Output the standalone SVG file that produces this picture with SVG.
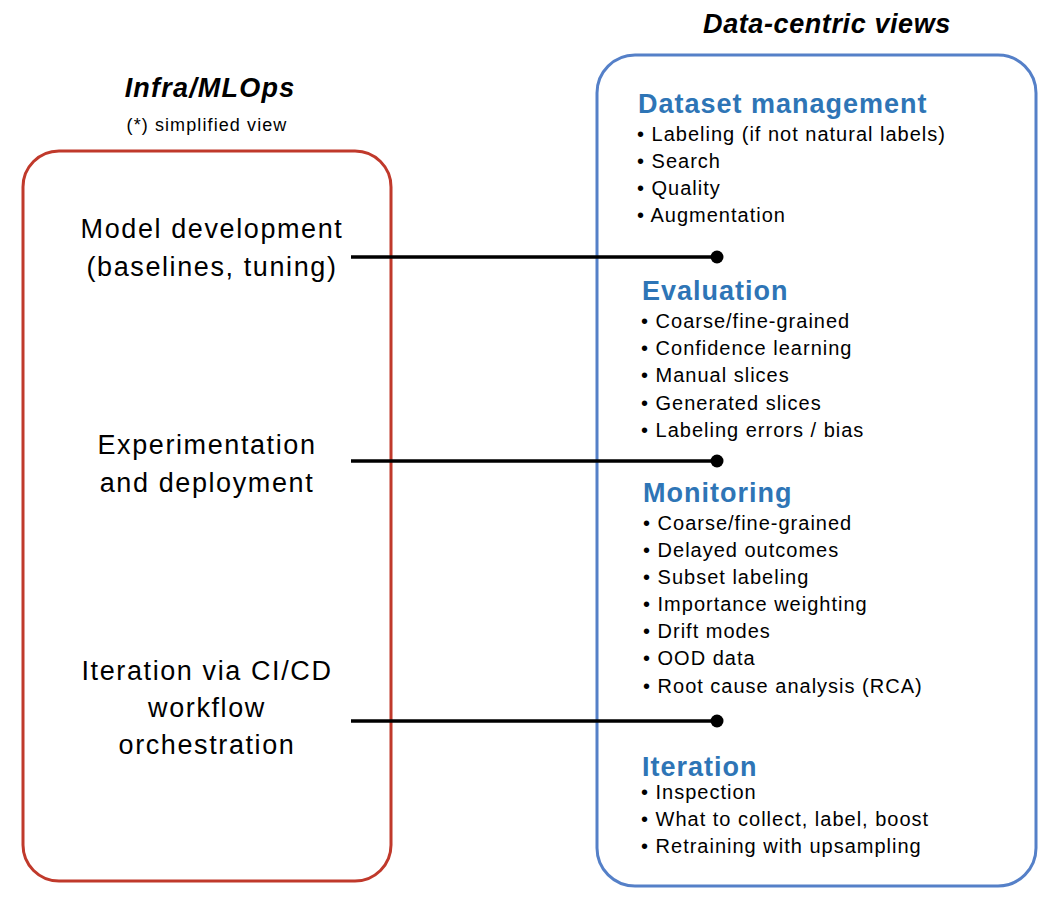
<svg xmlns="http://www.w3.org/2000/svg" width="1060" height="906" viewBox="0 0 1060 906">
<style>
.title{font-family:"Liberation Sans",Arial,sans-serif;font-weight:bold;font-style:italic;font-size:27px;fill:#000;text-anchor:middle}
.sub{font-family:"Liberation Sans",Arial,sans-serif;font-size:18px;letter-spacing:1.1px;fill:#000;text-anchor:middle}
.left{font-family:"Liberation Sans",Arial,sans-serif;font-size:27px;letter-spacing:1.6px;fill:#000;text-anchor:middle}
.head{font-family:"Liberation Sans",Arial,sans-serif;font-weight:bold;font-size:27px;letter-spacing:1px;fill:#2E75B6}
.item{font-family:"Liberation Sans",Arial,sans-serif;font-size:20px;letter-spacing:1px;fill:#000}
.conn{stroke:#000;stroke-width:3.5;fill:none}
</style>
<rect width="1060" height="906" fill="#fff"/>
<g id="infra">
<text class="title" x="210" y="97" letter-spacing="1.2">Infra/MLOps</text>
<text class="sub" x="207" y="131">(*) simplified view</text>
<rect x="23" y="151" width="368" height="730" rx="36" fill="none" stroke="#C0392B" stroke-width="3"/>
<text class="left" x="212" y="238">Model development</text>
<text class="left" x="212" y="276">(baselines, tuning)</text>
<text class="left" x="207" y="454">Experimentation</text>
<text class="left" x="207" y="492">and deployment</text>
<text class="left" x="207" y="680">Iteration via CI/CD</text>
<text class="left" x="207" y="717">workflow</text>
<text class="left" x="207" y="754">orchestration</text>
</g>
<g id="datacentric">
<text class="title" x="827" y="33" letter-spacing="0.6">Data-centric views</text>
<rect x="597" y="55" width="439" height="831" rx="38" fill="none" stroke="#5580C8" stroke-width="3"/>
<text class="head" x="638" y="113">Dataset management</text>
<text class="item" x="637" y="141">• Labeling (if not natural labels)</text>
<text class="item" x="637" y="168">• Search</text>
<text class="item" x="637" y="195">• Quality</text>
<text class="item" x="637" y="222">• Augmentation</text>
<text class="head" x="642" y="300">Evaluation</text>
<text class="item" x="641" y="328">• Coarse/fine-grained</text>
<text class="item" x="641" y="355">• Confidence learning</text>
<text class="item" x="641" y="382">• Manual slices</text>
<text class="item" x="641" y="410">• Generated slices</text>
<text class="item" x="641" y="437">• Labeling errors / bias</text>
<text class="head" x="643" y="502">Monitoring</text>
<text class="item" x="643" y="530">• Coarse/fine-grained</text>
<text class="item" x="643" y="557">• Delayed outcomes</text>
<text class="item" x="643" y="584">• Subset labeling</text>
<text class="item" x="643" y="611">• Importance weighting</text>
<text class="item" x="643" y="638">• Drift modes</text>
<text class="item" x="643" y="665">• OOD data</text>
<text class="item" x="643" y="693">• Root cause analysis (RCA)</text>
<text class="head" x="642" y="776">Iteration</text>
<text class="item" x="641" y="799">• Inspection</text>
<text class="item" x="641" y="826">• What to collect, label, boost</text>
<text class="item" x="641" y="853">• Retraining with upsampling</text>
</g>
<g id="connectors">
<line class="conn" x1="351" y1="257" x2="717" y2="257"/>
<circle cx="717" cy="257" r="6.5"/>
<line class="conn" x1="351" y1="461" x2="717" y2="461"/>
<circle cx="717" cy="461" r="6.5"/>
<line class="conn" x1="351" y1="721" x2="717" y2="721"/>
<circle cx="717" cy="721" r="6.5"/>
</g>
</svg>
